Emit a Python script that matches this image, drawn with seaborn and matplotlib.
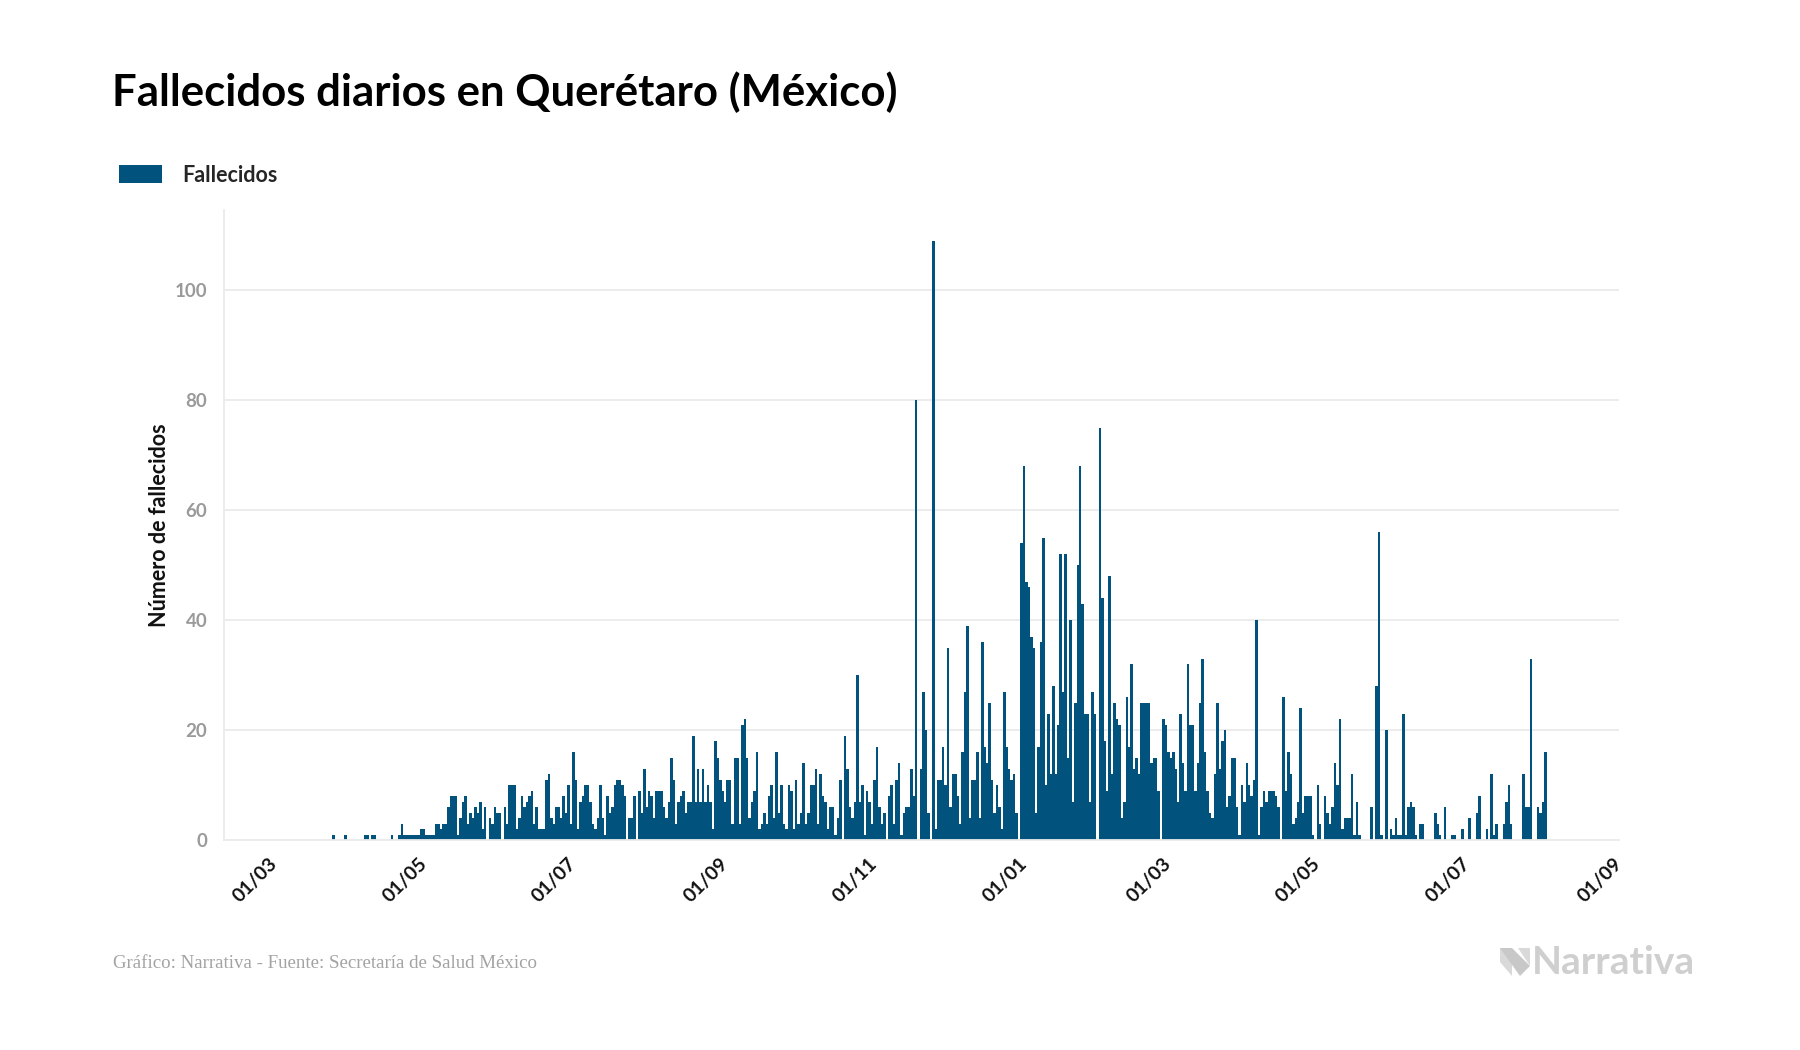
import numpy as np
import pandas as pd
import matplotlib
matplotlib.use("Agg")
import matplotlib.pyplot as plt
import matplotlib.dates as mdates
from matplotlib.patches import Patch, Polygon
from matplotlib.transforms import ScaledTranslation
import seaborn as sns

# ---- data: daily deaths, one list per month ----
mar20 = [0,0,0,0,0,0,0,0,0,0, 0,0,0,0,0,0,0,0,0,0, 0,0,0,0,1,0,0,0,0,1, 0]
apr20 = [0,0,0,0,0,0, 1,1,0,1,1, 0,0,0,0,0,0, 1,0,0, 1,3,1,1, 1,1,1,1,1, 2]
may20 = [2,1,1,1,1, 3,3,2,3,3, 6,8,8,8,1, 4,7,8,3,5, 4,6,5,7,2, 6,0,4,3,6, 5]
jun20 = [5,0,6,3,10,10,10,2,4,8, 6,7,8,9,3,6,2,2,2,11, 12,4,3,6,6,4,8,5,10,3]
jul20 = [16,11,2,7,8,10,10,7,3,2, 4,10,4,1,8,5,6,10,11,11, 10,8,0,4,4,8,0,9,5,13, 6]
aug20 = [9,8,4,9,9,9,6,4,7,15, 11,3,7,8,9,5,7,7,19,7, 13,7,13,7,10,7,2,18,15,11, 9]
sep20 = [7,11,11,3,15,15,3,21,22,15, 4,7,9,16,2,3,5,3,8,10, 4,16,5,10,3,2,10,9,2,11]
oct20 = [3,5,14,3,5,10,10,13,3,12, 8,7,2,6,6,1,4,11,0,19, 13,6,4,7,30,7,10,1,9,7, 3]
nov20 = [11,17,6,3,5,0,8,10,3,11, 14,1,5,6,6,13,8,80,0,13, 27,20,5,0,109,2,11,11,17,10]
dec20 = [35,6,12,12,8,3,16,27,39,4, 11,11,16,4,36,17,14,25,11,5, 10,6,2,27,17,13,11,12,5,0, 54]
jan21 = [68,47,46,37,35,5,17,36,55,10, 23,12,28,12,21,52,27,52,15,40, 7,25,50,68,43,23,23,7,27,23, 0]
feb21 = [75,44,18,9,48,12,25,22,21,4, 7,26,17,32,13,15,12,25,25,25, 25,14,15,15,9,0,22,21]
mar21 = [16,15,16,13,7,23,14,9,32,21, 21,9,14,25,33,16,9,5,4,12, 25,13,18,20,6,8,15,15,6,1, 10]
apr21 = [7,14,10,8,11,40,1,6,9,7, 9,9,9,8,6,0,26,9,16,12, 3,4,7,24,5,8,8,8,1,0]
may21 = [10,3,0,8,5,3,6,14,10,22, 2,4,4,4,12,1,7,1,0,0, 0,0,6,0,28,56,1,0,20,0, 2]
jun21 = [1,4,1,1,23,1,6,7,6,1, 0,3,3,0,0,0,0,5,3,1, 0,6,0,0,1,1,0,0,2,0]
jul21 = [0,4,0,0,5,8,0,0,2,0, 12,1,3,0,0,3,7,10,3,0, 0,0,0,12,6,6,33,0,0,6, 5]
aug21 = [7,16]

month_starts = ["2020-03-01","2020-04-01","2020-05-01","2020-06-01","2020-07-01",
                "2020-08-01","2020-09-01","2020-10-01","2020-11-01","2020-12-01",
                "2021-01-01","2021-02-01","2021-03-01","2021-04-01","2021-05-01",
                "2021-06-01","2021-07-01","2021-08-01"]
month_values = [mar20, apr20, may20, jun20, jul20, aug20, sep20, oct20, nov20, dec20,
                jan21, feb21, mar21, apr21, may21, jun21, jul21, aug21]

tick_dates = ["2020-03-01","2020-05-01","2020-07-01","2020-09-01","2020-11-01",
              "2021-01-01","2021-03-01","2021-05-01","2021-07-01","2021-09-01"]
tick_labels = ["01/03","01/05","01/07","01/09","01/11","01/01","01/03","01/05","01/07","01/09"]
y_ticks = [0, 20, 40, 60, 80, 100]

title = "Fallecidos diarios en Querétaro (México)"
series_name = "Fallecidos"
y_label = "Número de fallecidos"
footer = "Gráfico: Narrativa - Fuente: Secretaría de Salud México"

frames = []
for start, vals in zip(month_starts, month_values):
    frames.append(pd.DataFrame({"fecha": pd.date_range(start, periods=len(vals), freq="D"),
                                "fallecidos": vals}))
df = pd.concat(frames, ignore_index=True)
df["x"] = mdates.date2num(df["fecha"])

# ---- style ----
sns.set_theme(style="white")
plt.rcParams["font.family"] = ["Lato", "DejaVu Sans"]

BAR = "#01527c"
GRID = "#ebebeb"

fig = plt.figure(figsize=(18, 10.5), dpi=100)
ax = fig.add_axes([224/1800, 0.2, (1619-224)/1800, 0.6])

sns.barplot(data=df, x="x", y="fallecidos", native_scale=True, color=BAR,
            saturation=1, width=1.0, errorbar=None, linewidth=0, ax=ax, legend=False)

ax.set_xlim(mdates.date2num(pd.Timestamp("2020-02-09 08:00")),
            mdates.date2num(pd.Timestamp("2021-08-29 14:00")))
ax.set_ylim(0, 114.6)

ax.set_yticks(y_ticks)
ax.set_yticklabels([str(v) for v in y_ticks], fontsize=13.5, fontweight="bold", color="#9a9a9a")
ax.yaxis.grid(True, color=GRID, linewidth=1.3)
ax.xaxis.grid(False)
ax.set_axisbelow(True)
ax.tick_params(axis="y", length=0, pad=12)

ax.set_xticks(mdates.date2num(pd.to_datetime(tick_dates)))
ax.set_xticklabels(tick_labels, rotation=45, ha="right", rotation_mode="anchor",
                   fontsize=14, fontweight="bold", color="#111111")
ax.tick_params(axis="x", length=0, pad=11)
shift = ScaledTranslation(-0.06, 0, fig.dpi_scale_trans)
for lab in ax.get_xticklabels():
    lab.set_transform(lab.get_transform() + shift)

for s in ["top", "right"]:
    ax.spines[s].set_visible(False)
ax.spines["left"].set_color(GRID)
ax.spines["left"].set_linewidth(1.3)
ax.spines["bottom"].set_color(GRID)
ax.spines["bottom"].set_linewidth(1.3)

ax.set_xlabel("")
ax.set_ylabel(y_label, fontsize=15.5, fontweight="bold", color="#111111")
ax.yaxis.set_label_coords((170-224)/1395, 0.5)

# title
fig.text(112/1800, 1-92/1050, title, fontsize=31.5, fontweight="bold",
         color="#000000", va="center", ha="left")

# legend
fig.legend(handles=[Patch(facecolor=BAR, edgecolor="none")], labels=[series_name],
           loc="center left", bbox_to_anchor=(100/1800, 1-175/1050), frameon=False,
           handlelength=2.0, handleheight=0.85, handletextpad=0.9,
           prop={"weight": "bold", "size": 15.5, "family": ["Lato", "DejaVu Sans"]})

# footer
fig.text(113/1800, 1-964/1050, footer, fontsize=13.6, color="#a3a3a3",
         family=["Liberation Serif", "DejaVu Serif"], va="center", ha="left")

# logo
fig.text(1532/1800, 1-962/1050, "Narrativa", fontsize=28, fontweight="bold",
         color="#cfcfcf", va="center", ha="left")
W, H = 1800, 1050
def fp(px, py):
    return (px / W, 1 - py / H)
fig.patches.append(Polygon([fp(1500, 948), fp(1512, 948), fp(1512, 976), fp(1500, 962)],
                           closed=True, transform=fig.transFigure, facecolor="#d9d9d9", edgecolor="none"))
fig.patches.append(Polygon([fp(1500, 948), fp(1512, 948), fp(1530, 966), fp(1520, 976)],
                           closed=True, transform=fig.transFigure, facecolor="#c8c8c8", edgecolor="none"))
fig.patches.append(Polygon([fp(1518, 948), fp(1530, 948), fp(1530, 966)],
                           closed=True, transform=fig.transFigure, facecolor="#d9d9d9", edgecolor="none"))

fig.savefig("out.png", dpi=100, facecolor="white")
